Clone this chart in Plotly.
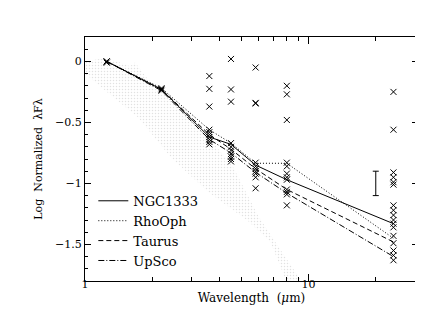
import plotly.graph_objects as go

# wavelengths of the photometric bands (micron)
WAVE = [1.25, 2.2, 3.6, 4.5, 5.8, 8.0, 24.0]

# median SEDs per region
NGC1333 = [0.0, -0.23, -0.62, -0.68, -0.85, -0.97, -1.33]
RHOOPH = [0.0, -0.22, -0.56, -0.67, -0.835, -0.835, -1.45]
TAURUS = [0.0, -0.23, -0.60, -0.72, -0.88, -1.05, -1.48]
UPSCO = [0.0, -0.24, -0.64, -0.75, -0.91, -1.08, -1.60]

# individual objects (crosses), per band
PTS_125 = [0.0, 0.0, -0.01]
PTS_22 = [-0.22, -0.23, -0.24]
PTS_36 = [-0.12, -0.225, -0.37, -0.56, -0.58, -0.60, -0.62, -0.64, -0.66, -0.68]
PTS_45 = [0.02, -0.23, -0.33, -0.67, -0.70, -0.73, -0.76, -0.78, -0.80, -0.82]
PTS_58 = [-0.05, -0.34, -0.345, -0.83, -0.86, -0.88, -0.90, -0.92, -0.95, -1.04]
PTS_80 = [-0.20, -0.27, -0.48, -0.83, -0.86, -0.92, -0.95, -0.97, -1.05, -1.07, -1.09, -1.18]
PTS_24 = [-0.25, -0.56, -0.91, -0.95, -0.99, -1.01, -1.18, -1.22, -1.26, -1.30,
          -1.33, -1.36, -1.43, -1.49, -1.55, -1.59, -1.63]

# outline of the grey photosphere cloud
CLOUD_UP_X = [1.0, 1.25, 1.59, 1.675, 1.92, 2.19, 2.75, 3.56, 4.61, 5.97, 7.34, 9.3]
CLOUD_UP_Y = [0.0, 0.03, -0.04, -0.01, -0.15, -0.22, -0.38, -0.62, -0.87, -1.27, -1.52, -1.80]
CLOUD_LO_X = [1.0, 1.27, 1.73, 2.43, 3.56, 5.38, 6.75, 7.95]
CLOUD_LO_Y = [-0.10, -0.26, -0.46, -0.79, -1.07, -1.31, -1.48, -1.80]

# representative error bar
ERR_X = [20.0]
ERR_Y = [-1.0]
ERR_SIZE = [0.1]

FONT = "DejaVu Serif"

fig = go.Figure()

cloud_x = CLOUD_UP_X + CLOUD_LO_X[::-1]
cloud_y = CLOUD_UP_Y + CLOUD_LO_Y[::-1]
fig.add_trace(go.Scatter(x=cloud_x, y=cloud_y, mode="lines", fill="toself",
                         line=dict(width=0), fillcolor="rgba(0,0,0,0)",
                         fillpattern=dict(shape=".", fgcolor="#c4c4c4", bgcolor="rgba(0,0,0,0)",
                                          size=3, solidity=0.2),
                         showlegend=False, hoverinfo="skip"))

xs, ys = [], []
for w, pts in zip(WAVE, [PTS_125, PTS_22, PTS_36, PTS_45, PTS_58, PTS_80, PTS_24]):
    xs += [w] * len(pts)
    ys += pts
fig.add_trace(go.Scatter(x=xs, y=ys, mode="markers", showlegend=False,
                         marker=dict(symbol="x-thin-open", size=6, color="black",
                                     line=dict(width=1, color="black"))))

for name, vals, dash in [("NGC1333", NGC1333, "solid"), ("RhoOph", RHOOPH, "1px,2px"),
                         ("Taurus", TAURUS, "5px,3px"), ("UpSco", UPSCO, "6px,2px,1px,2px")]:
    fig.add_trace(go.Scatter(x=WAVE, y=vals, mode="lines", name=name,
                             line=dict(color="black", width=1, dash=dash)))

fig.add_trace(go.Scatter(x=ERR_X, y=ERR_Y, mode="markers", showlegend=False,
                         marker=dict(size=1, color="rgba(0,0,0,0)"),
                         error_y=dict(type="data", array=ERR_SIZE, width=3,
                                      thickness=1, color="black")))

axis_common = dict(showline=True, linecolor="black", linewidth=1, mirror="allticks",
                   ticks="inside", tickcolor="black", showgrid=False, zeroline=False,
                   tickfont=dict(family=FONT, size=11, color="black"))

fig.update_xaxes(type="log", range=[0, 1.49], tickvals=[1, 10], ticktext=["1", "10"],
                 ticklen=7, ticklabelstandoff=-7,
                 minor=dict(tickvals=[2, 3, 4, 5, 6, 7, 8, 9, 20, 30], ticklen=4,
                            ticks="inside", tickcolor="black"),
                 title=dict(text="Wavelength  (<i>μ</i>m)", font=dict(family=FONT, size=12, color="black"),
                            standoff=2),
                 **axis_common)
fig.update_yaxes(range=[-1.8, 0.2], tickvals=[0, -0.5, -1, -1.5],
                 ticktext=["0", "−0.5", "−1", "−1.5"], ticklen=6,
                 minor=dict(dtick=0.1, ticklen=3, ticks="inside", tickcolor="black"),
                 title=dict(text="Log  Normalized  λFλ", font=dict(family=FONT, size=11, color="black"),
                            standoff=10),
                 **axis_common)

fig.update_layout(width=423, height=327, margin=dict(l=77, r=13, t=29, b=54),
                  paper_bgcolor="white", plot_bgcolor="white",
                  font=dict(family=FONT, color="black"),
                  legend=dict(x=0.025, y=0.39, xanchor="left", yanchor="top",
                              bgcolor="rgba(0,0,0,0)", borderwidth=0,
                              font=dict(family=FONT, size=13, color="black"),
                              tracegroupgap=0, itemwidth=30))

fig.write_html("out.html")
